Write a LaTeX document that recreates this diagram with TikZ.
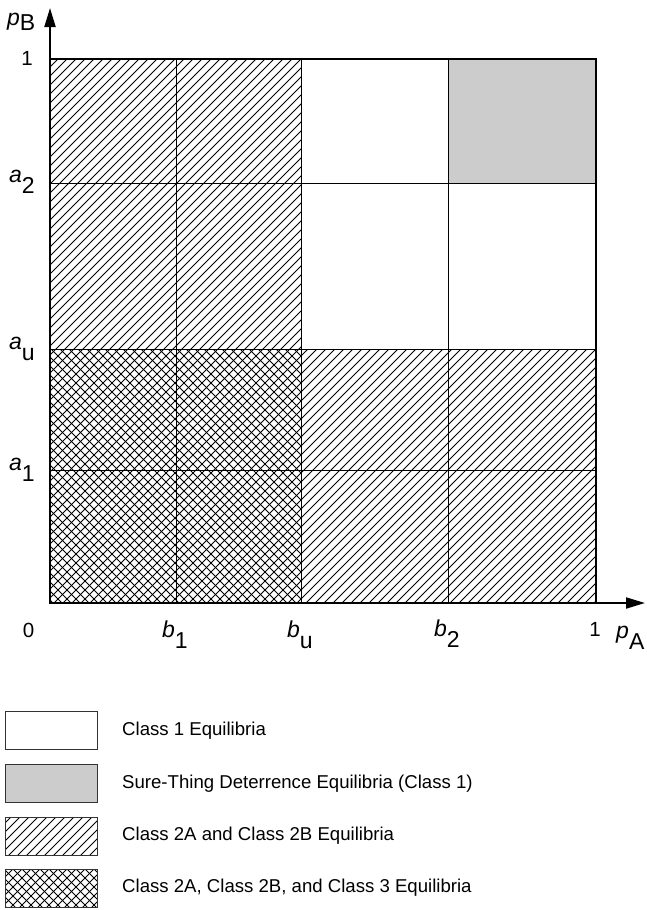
\documentclass[tikz,border=0pt]{standalone}
\usepackage{fontspec}
\setmainfont{Liberation Sans}
\usepackage{tikz}
\usetikzlibrary{arrows.meta, positioning}
\definecolor{ink}{HTML}{000000}
\definecolor{surething}{HTML}{CCCCCC}
\newcommand{\idx}[3][11pt]{\textit{#2}\raisebox{-#1}{#3}}
% hatching of a box: single (/) or crossed (/ and \)
\newcommand{\slashfill}[4]{%
  \begin{scope}
    \clip (#1,#2) rectangle (#3,#4);
    \foreach \c in {0,9,...,1800} \draw[hatchline] (\c,0) -- (\c-1000,1000);
  \end{scope}}
\newcommand{\crossfill}[4]{%
  \begin{scope}
    \clip (#1,#2) rectangle (#3,#4);
    \foreach \c in {0,9,...,1800} \draw[hatchline] (\c,0) -- (\c-1000,1000);
    \foreach \c in {-1000,-991,...,700} \draw[hatchline] (\c,0) -- (\c+1000,1000);
  \end{scope}}
\tikzset{
  lab/.style={inner sep=0pt, font=\fontsize{23}{27}\selectfont},
  numlab/.style={inner sep=0pt, font=\fontsize{20.5}{24}\selectfont},
  legtext/.style={inner sep=0pt, anchor=west, font=\fontsize{18.6}{22}\selectfont},
  hatchline/.style={draw=ink, line width=0.8pt},
  gridline/.style={draw=ink, line width=0.9pt},
  legbox/.style={draw=ink!80, line width=0.9pt},
  axis/.style={draw=ink, line width=2pt, -{Triangle[length=19pt, width=11pt]}}
}

\begin{document}
\begin{tikzpicture}[x=1pt,y=-1pt]
\useasboundingbox (0,0) rectangle (647,910);

% regions of the unit square
\slashfill{50}{58.5}{301}{349}
\crossfill{50}{349}{301}{603}
\slashfill{301}{349}{596}{603}
\fill[surething] (448,58.5) rectangle (596,183);

% grid
\draw[gridline] (176,58.5) -- (176,603);
\draw[gridline] (301,58.5) -- (301,603);
\draw[gridline] (448,58.5) -- (448,603);
\draw[gridline] (50,183) -- (596,183);
\draw[gridline] (50,349) -- (596,349);
\draw[gridline] (50,470) -- (596,470);
\draw[draw=ink, line width=2pt] (50,58.5) rectangle (596,603);

% axes
\coordinate (O) at (50,603);
\coordinate (ytip) at (50,8);
\coordinate (xtip) at (645,603);
\draw[axis] (O) -- (ytip);
\draw[axis] (O) -- (xtip);

% axis labels
\node[lab, anchor=base west] (pB) at (7,25) {\idx[5pt]{p}{B}};
\node[numlab, anchor=base] (one-y) at (27,65) {1};
\node[lab, anchor=base west] (a2) at (9,182) {\idx{a}{2}};
\node[lab, anchor=base west] (au) at (9,349) {\idx{a}{u}};
\node[lab, anchor=base west] (a1) at (9,470) {\idx{a}{1}};

\node[numlab, anchor=base] (zero) at (28.5,637) {0};
\node[lab, anchor=base west] (b1) at (162,637) {\idx{b}{1}};
\node[lab, anchor=base west] (bu) at (287,637) {\idx{b}{u}};
\node[lab, anchor=base west] (b2) at (434,636) {\idx{b}{2}};
\node[numlab, anchor=base] (one-x) at (595,636) {1};
\node[lab, anchor=base west] (pA) at (616,638) {\idx{p}{A}};

% legend
\filldraw[legbox, fill=white] (5,711) rectangle (97,749);
\node[legtext] (leg1) at (122,731) {Class 1 Equilibria};
\filldraw[legbox, fill=surething] (5,764) rectangle (97,802);
\node[legtext] (leg2) at (122,784) {Sure-Thing Deterrence Equilibria (Class 1)};
\slashfill{5}{817}{97}{855}
\draw[legbox] (5,817) rectangle (97,855);
\node[legtext] (leg3) at (122,836) {Class 2A and Class 2B Equilibria};
\crossfill{5}{869}{97}{907}
\draw[legbox] (5,869) rectangle (97,907);
\node[legtext] (leg4) at (122,888) {Class 2A, Class 2B, and Class 3 Equilibria};
\end{tikzpicture}
\end{document}
